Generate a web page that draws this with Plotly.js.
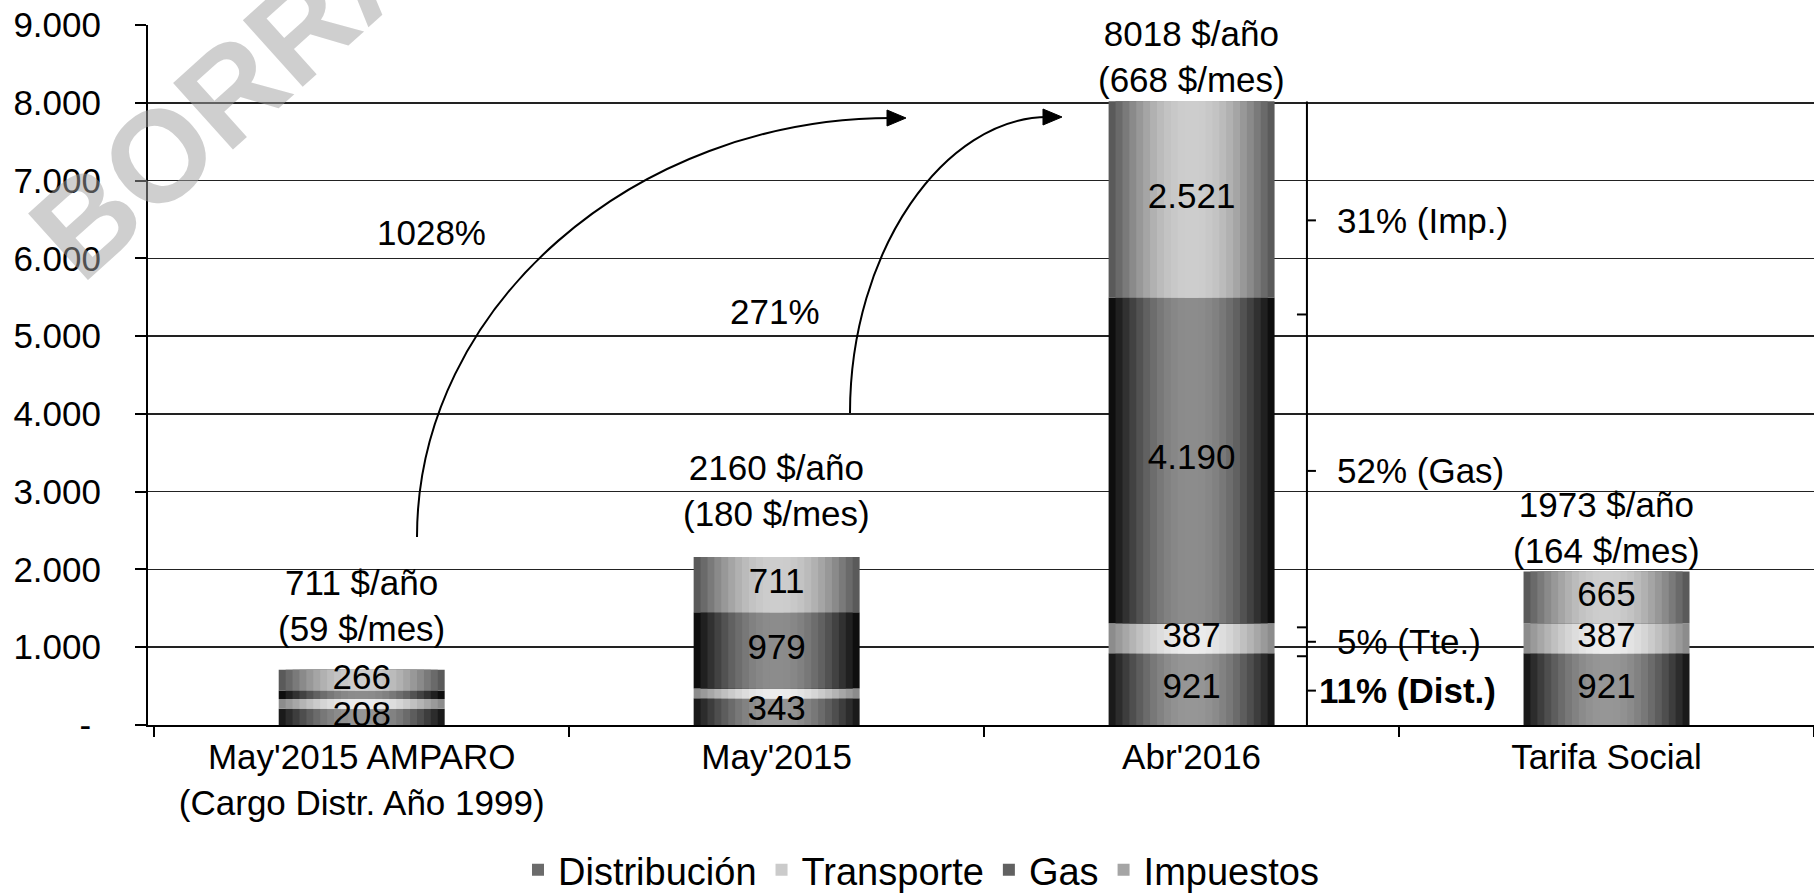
<!DOCTYPE html>
<html>
<head>
<meta charset="utf-8">
<script src="https://cdn.plot.ly/plotly-3.0.1.min.js"></script>
<style>html,body{margin:0;padding:0;background:#fff;}#chart{width:1814px;height:894px;}</style>
</head>
<body>
<div id="chart"></div>
<script>
// ---- data ----
const categories = ["May'2015 AMPARO<br>(Cargo Distr. Año 1999)", "May'2015", "Abr'2016", "Tarifa Social"];
const seriesNames = ["Distribución", "Transporte", "Gas", "Impuestos"];
const shortNames = ["Dist.", "Tte.", "Gas", "Imp."];
const distribucion = [208, 343, 921, 921];
const transporte = [127, 127, 387, 387];
const gas = [110, 979, 4190, 0];
const impuestos = [266, 711, 2521, 665];
const totalAnual = [711, 2160, 8018, 1973];
const totalMensual = [59, 180, 668, 164];
const yTickVals = [0, 1000, 2000, 3000, 4000, 5000, 6000, 7000, 8000, 9000];
const yTickText = ["-\u00a0", "1.000", "2.000", "3.000", "4.000", "5.000", "6.000", "7.000", "8.000", "9.000"];

// ---- styling ----
const FONT = "Liberation Sans, Arial, sans-serif";
const FS = 35;
// [edge colour, centre colour] for a cylinder-like shading
const shades = [[[26,26,26],[150,150,150]], [[140,140,140],[236,236,236]], [[14,14,14],[140,140,140]], [[90,90,90],[205,205,205]]];
const BARW = 0.4, LAYERS = 12, LEGEND_LAYER = 5;
const W = 1814, H = 894;
const M = {l: 148, r: 0, t: 25, b: 169};
const PW = W - M.l - M.r, PH = H - M.t - M.b;
const px = x => (x - M.l) / PW;
const py = y => (H - M.b - y) / PH;
const P = (x, y) => px(x).toFixed(5) + "," + py(y).toFixed(5);
const rgb = c => "rgb(" + c.map(Math.round).join(",") + ")";

const fmt = v => String(v).replace(/\B(?=(\d{3})+(?!\d))/g, ".");
const seriesVals = [distribucion, transporte, gas, impuestos];

// stacking bases from the data
const bases = seriesVals.map((s, i) => s.map((v, j) => {
  let b = 0; for (let k = 0; k < i; k++) b += seriesVals[k][j]; return b;
}));

const traces = [];
seriesVals.forEach((vals, i) => {
  for (let k = 0; k < LAYERS; k++) {
    const t = k / (LAYERS - 1);
    const e = Math.sin(t * Math.PI / 2);
    const c = shades[i][0].map((a, n) => a + (shades[i][1][n] - a) * e);
    traces.push({
      type: "bar", name: seriesNames[i], legendgroup: seriesNames[i],
      showlegend: k === LEGEND_LAYER,
      x: categories, y: vals, base: bases[i],
      width: BARW * (1 - k / LAYERS),
      marker: {color: rgb(c), line: {width: 0}},
      hoverinfo: "skip"
    });
  }
});
// value labels at segment centres
const lblX = [], lblY = [], lblT = [];
seriesVals.forEach((vals, i) => vals.forEach((v, j) => {
  if (v > 150) { lblX.push(categories[j]); lblY.push(bases[i][j] + v / 2); lblT.push(fmt(v)); }
}));
traces.push({type: "scatter", mode: "text", x: lblX, y: lblY, text: lblT, showlegend: false,
  textposition: "middle center", textfont: {family: FONT, size: FS, color: "#000"}, hoverinfo: "skip", cliponaxis: false});

// total labels above the bars
const totalShift = [20, 22, 0, 0];
const annotations = categories.map((c, i) => ({
  x: c, y: totalAnual[i], xref: "x", yref: "y",
  text: totalAnual[i] + " $/año<br>(" + totalMensual[i] + " $/mes)",
  showarrow: false, xanchor: "center", yanchor: "bottom", yshift: totalShift[i],
  font: {family: FONT, size: FS, color: "#000"}
}));

// percentage increases
const inc1 = Math.round((totalAnual[2] - totalAnual[0]) / totalAnual[0] * 100);
const inc2 = Math.round((totalAnual[2] - totalAnual[1]) / totalAnual[1] * 100);
annotations.push({xref: "paper", yref: "paper", x: px(431), y: py(232), xanchor: "center", yanchor: "middle",
  text: inc1 + "%", showarrow: false, font: {family: FONT, size: FS, color: "#000"}});
annotations.push({xref: "paper", yref: "paper", x: px(775), y: py(311), xanchor: "center", yanchor: "middle",
  text: inc2 + "%", showarrow: false, font: {family: FONT, size: FS, color: "#000"}});

// share bracket for Abr'2016 (drawn on a slightly compressed secondary scale, as in the original)
const idx = 2;
const sharesX = 2.278;
const SEC = 0.96;
const shapes = [];
let cum = 0;
const abrVals = seriesVals.map(s => s[idx]);
shapes.push({type: "line", xref: "x", yref: "y", x0: sharesX, x1: sharesX, y0: 0, y1: totalAnual[idx],
  line: {color: "#000", width: 2}});
const labelShift = [10, 28, 28, 28];
abrVals.forEach((v, i) => {
  const mid = (cum + v / 2) * SEC;
  cum += v;
  if (i < abrVals.length - 1) {
    shapes.push({type: "line", xref: "x", yref: "y", xsizemode: "pixel", xanchor: sharesX, x0: -10, x1: 0,
      y0: cum * SEC, y1: cum * SEC, line: {color: "#000", width: 2}});
  }
  shapes.push({type: "line", xref: "x", yref: "y", xsizemode: "pixel", xanchor: sharesX, x0: 0, x1: 9,
    y0: mid, y1: mid, line: {color: "#000", width: 2}});
  const pct = Math.round(v / totalAnual[idx] * 100);
  annotations.push({x: sharesX, y: mid, xref: "x", yref: "y", xanchor: "left", yanchor: "middle",
    xshift: labelShift[i], showarrow: false,
    text: (i === 0 ? "<b>" : "") + pct + "% (" + shortNames[i] + ")" + (i === 0 ? "</b>" : ""),
    font: {family: FONT, size: FS, color: "#000"}});
});

// curved arrows (quarter-ellipse style)
shapes.push({type: "path", xref: "paper", yref: "paper",
  path: "M" + P(417, 537) + " C" + P(417, 306) + " " + P(635, 118) + " " + P(892, 118),
  line: {color: "#000", width: 2}});
shapes.push({type: "path", xref: "paper", yref: "paper",
  path: "M" + P(906, 118) + " L" + P(887, 110) + " L" + P(887, 126) + " Z",
  fillcolor: "#000", line: {color: "#000", width: 1}});
shapes.push({type: "path", xref: "paper", yref: "paper",
  path: "M" + P(850, 413) + " C" + P(850, 250) + " " + P(945, 117) + " " + P(1048, 117),
  line: {color: "#000", width: 2}});
shapes.push({type: "path", xref: "paper", yref: "paper",
  path: "M" + P(1062, 117) + " L" + P(1043, 109) + " L" + P(1043, 125) + " Z",
  fillcolor: "#000", line: {color: "#000", width: 1}});

// watermark
annotations.push({xref: "paper", yref: "paper", x: px(336), y: py(-4), xanchor: "center", yanchor: "middle",
  text: "<b>BORRADOR</b>", showarrow: false, textangle: -42,
  font: {family: FONT, size: 130, color: "rgba(160,160,160,0.5)"}});

const layout = {
  width: W, height: H,
  margin: {l: M.l, r: M.r, t: M.t, b: M.b, pad: 0, autoexpand: false},
  paper_bgcolor: "#fff", plot_bgcolor: "#fff",
  separators: ",.",
  barmode: "overlay",
  font: {family: FONT, size: FS, color: "#000"},
  showlegend: true,
  legend: {orientation: "h", x: px(921), xanchor: "center", y: py(870), yanchor: "middle",
    font: {family: FONT, size: 38, color: "#000"}, traceorder: "normal", itemwidth: 30,
    bgcolor: "rgba(0,0,0,0)"},
  xaxis: {
    type: "category", range: [-0.515, 3.5], showline: true, linecolor: "#000", linewidth: 2,
    ticks: "outside", tickson: "boundaries", ticklen: 10, tickcolor: "#000", tickwidth: 2,
    showgrid: false, zeroline: false, tickfont: {family: FONT, size: FS, color: "#000"}
  },
  yaxis: {
    range: [0, 9000], tickvals: yTickVals, ticktext: yTickText,
    showline: true, linecolor: "#000", linewidth: 2,
    ticks: "outside", ticklen: 11, tickcolor: "#000", tickwidth: 2, ticklabelstandoff: 27,
    showgrid: true, gridcolor: "#222", gridwidth: 1.5, zeroline: false,
    tickfont: {family: FONT, size: FS, color: "#000"}
  },
  annotations: annotations,
  shapes: shapes
};

Plotly.newPlot("chart", traces, layout, {displayModeBar: false, staticPlot: true});
</script>
</body>
</html>
